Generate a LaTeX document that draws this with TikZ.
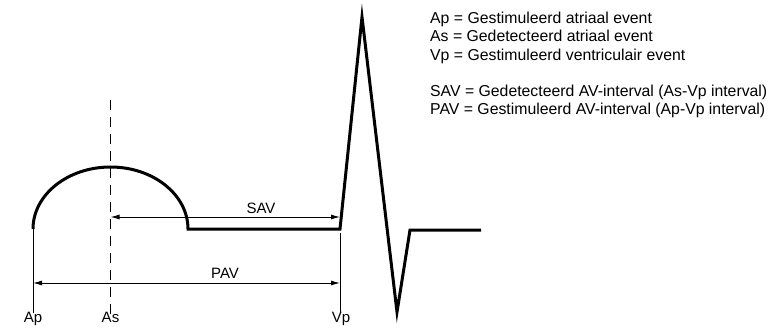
\documentclass[tikz,border=0pt]{standalone}
\usepackage{fontspec}
\setmainfont{Liberation Sans}
\usetikzlibrary{arrows.meta,positioning}
\tikzset{
  ecg/trace/.style={line width=3pt},
  ecg/marker/.style={line width=1pt},
  ecg/sensed/.style={ecg/marker, dash pattern=on 10pt off 7pt},
  ecg/interval/.style={line width=1pt, {Latex[length=9pt,width=5pt]}-{Latex[length=9pt,width=5pt]}},
  ecg/label/.style={font=\fontsize{15}{18}\selectfont, inner sep=0pt, anchor=base},
  ecg/legend/.style={font=\fontsize{15.8}{18}\selectfont, inner sep=0pt, anchor=base west}
}

\begin{document}
\begin{tikzpicture}[x=1pt, y=-1pt]
  \useasboundingbox (0,0) rectangle (771,329);

  % Trace points
  \coordinate (apTop) at (33,229);
  \coordinate (vpBase) at (340,229);
  \coordinate (peak) at (362,17);
  \coordinate (trough) at (397,312);
  \coordinate (recover) at (410,230);
  \coordinate (tail) at (481,230);

  % Event markers
  \coordinate (apBot) at (33,313);
  \coordinate (asTop) at (110.5,100);
  \coordinate (asBot) at (110.5,315);
  \coordinate (vpTop) at (340,233);
  \coordinate (vpBot) at (340,313);

  % P wave, AV delay and QRS
  \draw[ecg/trace] (apTop) arc[start angle=180, end angle=360, x radius=77.5, y radius=62]
    -- (vpBase) -- (peak) -- (trough) -- (recover) -- (tail);

  \draw[ecg/marker] (apTop) -- (apBot);
  \draw[ecg/sensed] (asTop) -- (asBot);
  \draw[ecg/marker] (vpTop) -- (vpBot);

  % Intervals
  \coordinate (savL) at (asTop |- 0,217);
  \coordinate (savR) at (vpTop |- 0,217);
  \coordinate (pavL) at (apTop |- 0,283);
  \coordinate (pavR) at (vpTop |- 0,283);
  \draw[ecg/interval] (savL) -- (savR);
  \draw[ecg/interval] (pavL) -- (pavR);
  \node[ecg/label] (sav) at (261,213) {SAV};
  \node[ecg/label] (pav) at (225,278) {PAV};

  \node[ecg/label] (ap) at (33,322) {Ap};
  \node[ecg/label] (as) at (110.5,322) {As};
  \node[ecg/label] (vp) at (341,322) {Vp};

  % Legend
  \node[ecg/legend] (legAp) at (430,24) {Ap = Gestimuleerd atriaal event};
  \node[ecg/legend] (legAs) at (430,42) {As = Gedetecteerd atriaal event};
  \node[ecg/legend] (legVp) at (430,60) {Vp = Gestimuleerd ventriculair event};
  \node[ecg/legend] (legSAV) at (430,96) {SAV = Gedetecteerd AV-interval (As-Vp interval)};
  \node[ecg/legend] (legPAV) at (430,114) {PAV = Gestimuleerd AV-interval (Ap-Vp interval)};
\end{tikzpicture}
\end{document}
